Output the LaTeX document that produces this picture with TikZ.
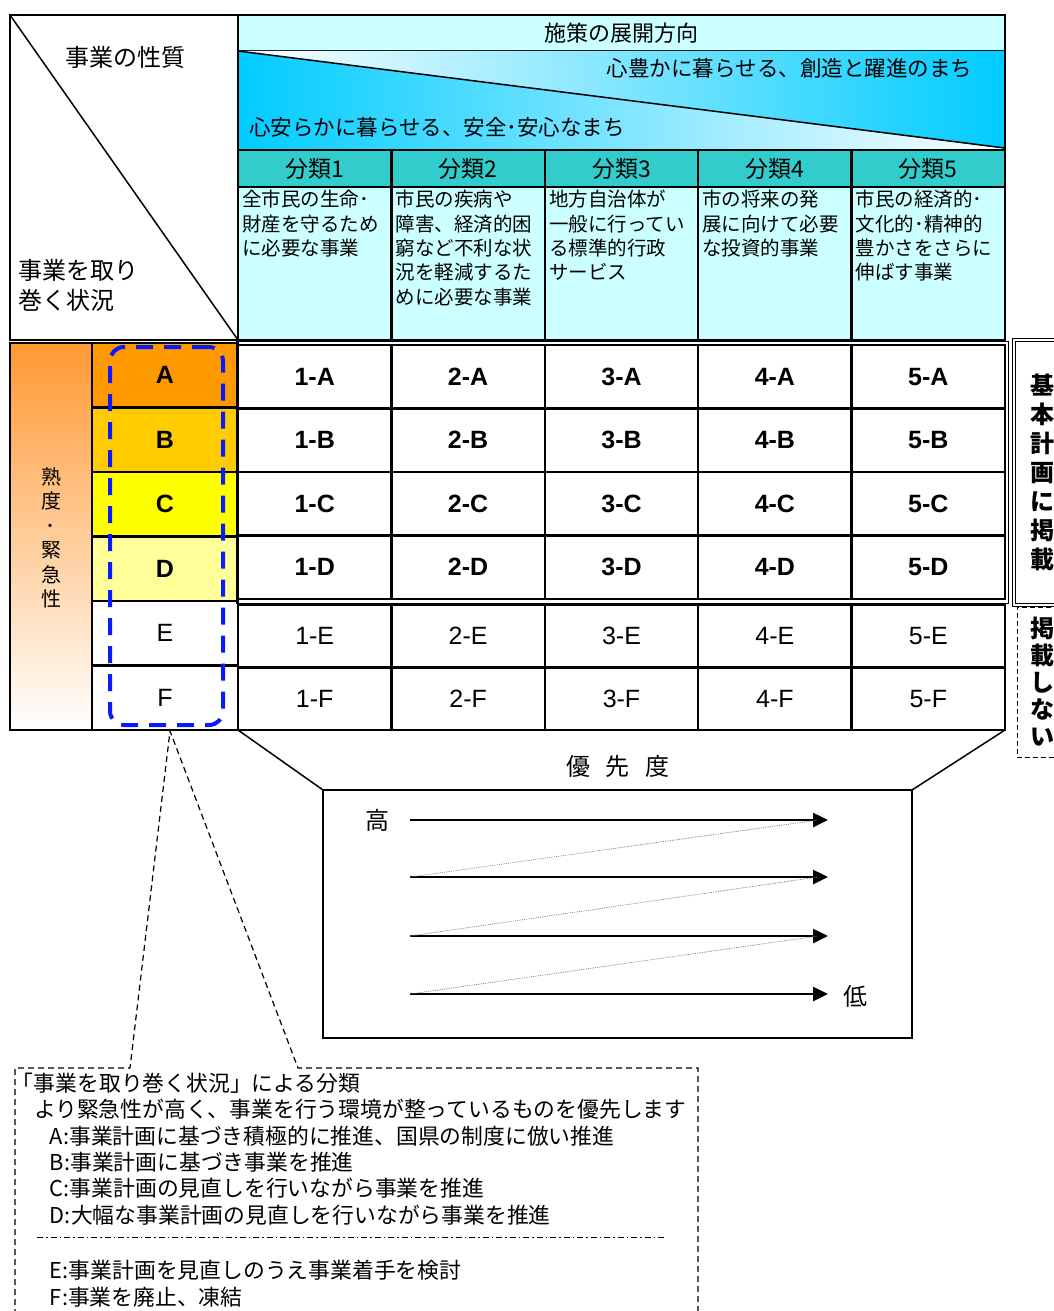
\documentclass[tikz,border=0pt]{standalone}
\usepackage{fontspec}
\setmainfont{Liberation Sans}
\newfontfamily\jp{Noto Sans CJK JP}
\usetikzlibrary{arrows.meta,positioning}
\definecolor{hdrcyan}{HTML}{CCFFFF}
\definecolor{kindteal}{HTML}{33CCCC}
\definecolor{skycyan}{HTML}{00CCFF}
\definecolor{ripe}{HTML}{FF9933}
\definecolor{lvA}{HTML}{FF9900}
\definecolor{lvB}{HTML}{FFCC00}
\definecolor{lvC}{HTML}{FFFF00}
\definecolor{lvD}{HTML}{FFFF99}
\definecolor{selblue}{HTML}{0A1AFF}

\begin{document}
\begin{tikzpicture}[x=1pt, y=-1pt, >={Triangle[length=15pt,width=14pt]},
    every node/.style={inner sep=0pt, outer sep=0pt},
    kind/.style={draw, line width=2.5pt, fill=kindteal, minimum width=153.4pt, minimum height=37pt, font=\jp\fontsize{23}{24}\selectfont},
    desc/.style={draw, line width=2.5pt, fill=hdrcyan, minimum width=153.4pt, minimum height=153pt},
    lvl/.style={draw, line width=2.5pt, minimum width=146pt, minimum height=64.5pt, font=\bfseries\fontsize{25}{28}\selectfont},
    cellhi/.style={draw, line width=2.5pt, minimum width=153.4pt, minimum height=63.5pt, font=\bfseries\fontsize{25}{28}\selectfont},
    celllo/.style={draw, line width=2.5pt, minimum width=153.4pt, minimum height=62.5pt, font=\fontsize{25}{28}\selectfont},
    note/.style={anchor=west, align=left, font=\jp\fontsize{21.8}{26.4}\selectfont}]
    \useasboundingbox (0,0) rectangle (1053,1311);

    % corner cell
    \draw[line width=1.5pt] (10,15) rectangle (238,340);
    \draw[line width=1.5pt] (10,15) -- (238,340);
    \node[font=\jp\fontsize{24}{26}\selectfont] (nature) at (125,57) {事業の性質};
    \node[anchor=west, align=left, font=\jp\fontsize{24}{30}\selectfont] (situation) at (18,285) {事業を取り\\巻く状況};

    % direction band
    \node[draw, line width=2.5pt, fill=hdrcyan, minimum width=767pt, minimum height=36pt, font=\jp\fontsize{22}{24}\selectfont] (dir) at (621.5,33) {施策の展開方向};
    \shade[left color=white, right color=skycyan] (238,51) -- (1005,51) -- (1005,149) -- cycle;
    \shade[left color=skycyan, right color=white] (238,51) -- (238,149) -- (1005,149) -- cycle;
    \draw[line width=1.5pt] (238,51) -- (1005,148);
    \node[anchor=east, font=\jp\fontsize{21.5}{24}\selectfont] (rich) at (972,68) {心豊かに暮らせる、創造と躍進のまち};
    \node[anchor=west, font=\jp\fontsize{21.5}{24}\selectfont] (safe) at (249,127) {心安らかに暮らせる、安全･安心なまち};

    % kinds
    \node[kind] (k1) at (314.7,168.5) {分類1};
    \node[kind] (k2) at (468.1,168.5) {分類2};
    \node[kind] (k3) at (621.5,168.5) {分類3};
    \node[kind] (k4) at (774.9,168.5) {分類4};
    \node[kind] (k5) at (928.3,168.5) {分類5};

    \node[desc] (d1) at (314.7,263.5) {\parbox[c][146pt][t]{145pt}{\jp\fontsize{19.5}{24.3}\selectfont 全市民の生命･\\財産を守るため\\に必要な事業}};
    \node[desc] (d2) at (468.1,263.5) {\parbox[c][146pt][t]{145pt}{\jp\fontsize{19.5}{24.3}\selectfont 市民の疾病や\\障害、経済的困\\窮など不利な状\\況を軽減するた\\めに必要な事業}};
    \node[desc] (d3) at (621.5,263.5) {\parbox[c][146pt][t]{145pt}{\jp\fontsize{19.5}{24.3}\selectfont 地方自治体が\\一般に行ってい\\る標準的行政\\サービス}};
    \node[desc] (d4) at (774.9,263.5) {\parbox[c][146pt][t]{145pt}{\jp\fontsize{19.5}{24.3}\selectfont 市の将来の発\\展に向けて必要\\な投資的事業}};
    \node[desc] (d5) at (928.3,263.5) {\parbox[c][146pt][t]{145pt}{\jp\fontsize{19.5}{24.3}\selectfont 市民の経済的･\\文化的･精神的\\豊かさをさらに\\伸ばす事業}};
    \draw[line width=2.5pt] (238,15) rectangle (1005,340);

    % ripeness / urgency
    \shade[top color=ripe, bottom color=white] (10,343) rectangle (92,730);
    \draw[line width=2pt] (10,343) rectangle (92,730);
    \node[align=center, font=\jp\fontsize{20}{24.5}\selectfont] (ripetxt) at (51,538) {熟\\度\\･\\緊\\急\\性};

    \node[lvl, fill=lvA] (lA) at (165,375.25) {A};
    \node[lvl, fill=lvB] (lB) at (165,439.75) {B};
    \node[lvl, fill=lvC] (lC) at (165,504.25) {C};
    \node[lvl, fill=lvD] (lD) at (165,568.75) {D};
    \node[lvl, font=\fontsize{25}{28}\selectfont] (lE) at (165,633.25) {E};
    \node[lvl, font=\fontsize{25}{28}\selectfont] (lF) at (165,697.75) {F};

    % grid
    \node[cellhi] (c1A) at (314.7,376.75) {1-A};
    \node[cellhi] (c2A) at (468.1,376.75) {2-A};
    \node[cellhi] (c3A) at (621.5,376.75) {3-A};
    \node[cellhi] (c4A) at (774.9,376.75) {4-A};
    \node[cellhi] (c5A) at (928.3,376.75) {5-A};
    \node[cellhi] (c1B) at (314.7,440.25) {1-B};
    \node[cellhi] (c2B) at (468.1,440.25) {2-B};
    \node[cellhi] (c3B) at (621.5,440.25) {3-B};
    \node[cellhi] (c4B) at (774.9,440.25) {4-B};
    \node[cellhi] (c5B) at (928.3,440.25) {5-B};
    \node[cellhi] (c1C) at (314.7,503.75) {1-C};
    \node[cellhi] (c2C) at (468.1,503.75) {2-C};
    \node[cellhi] (c3C) at (621.5,503.75) {3-C};
    \node[cellhi] (c4C) at (774.9,503.75) {4-C};
    \node[cellhi] (c5C) at (928.3,503.75) {5-C};
    \node[cellhi] (c1D) at (314.7,567.25) {1-D};
    \node[cellhi] (c2D) at (468.1,567.25) {2-D};
    \node[cellhi] (c3D) at (621.5,567.25) {3-D};
    \node[cellhi] (c4D) at (774.9,567.25) {4-D};
    \node[cellhi] (c5D) at (928.3,567.25) {5-D};
    \node[celllo] (c1E) at (314.7,636.25) {1-E};
    \node[celllo] (c2E) at (468.1,636.25) {2-E};
    \node[celllo] (c3E) at (621.5,636.25) {3-E};
    \node[celllo] (c4E) at (774.9,636.25) {4-E};
    \node[celllo] (c5E) at (928.3,636.25) {5-E};
    \node[celllo] (c1F) at (314.7,698.75) {1-F};
    \node[celllo] (c2F) at (468.1,698.75) {2-F};
    \node[celllo] (c3F) at (621.5,698.75) {3-F};
    \node[celllo] (c4F) at (774.9,698.75) {4-F};
    \node[celllo] (c5F) at (928.3,698.75) {5-F};
    \draw[line width=1pt] (236.5,341) rectangle (1008.5,603.5);
    \draw[line width=2pt] (10,730) -- (1005,730);

    % selection
    \node[draw=selblue, line width=4pt, dash pattern=on 17pt off 11pt, rounded corners=14pt, minimum width=113pt, minimum height=378pt] (sel) at (166.5,536) {};
    \coordinate (tip) at (170,731);

    % plan labels
    \node[draw, double, double distance=2pt, line width=1pt, minimum width=56pt, minimum height=265pt, align=center, font=\jp\bfseries\fontsize{24}{29}\selectfont] (plan) at (1042,472) {基\\本\\計\\画\\に\\掲\\載};
    \node[draw, line width=0.8pt, dash pattern=on 5pt off 3pt, minimum width=50pt, minimum height=150pt, align=center, font=\jp\bfseries\fontsize{24}{27}\selectfont] (noplan) at (1042,682) {掲\\載\\し\\な\\い};

    % priority
    \node[font=\jp\fontsize{24}{26}\selectfont] (prtitle) at (618,766) {優\hspace{0.65em}先\hspace{0.65em}度};
    \node[draw, line width=1.5pt, minimum width=589pt, minimum height=248pt] (prio) at (617.5,914) {};
    \draw[line width=1.5pt] (c1F.south west) -- (prio.north west);
    \draw[line width=1.5pt] (c5F.south east) -- (prio.north east);
    \coordinate (r1s) at (410,820); \coordinate (r1e) at (828,820);
    \coordinate (r2s) at (410,877); \coordinate (r2e) at (828,877);
    \coordinate (r3s) at (410,936); \coordinate (r3e) at (828,936);
    \coordinate (r4s) at (410,994); \coordinate (r4e) at (828,994);
    \draw[->, line width=2.5pt] (r1s) -- (r1e);
    \draw[->, line width=2.5pt] (r2s) -- (r2e);
    \draw[->, line width=2.5pt] (r3s) -- (r3e);
    \draw[->, line width=2.5pt] (r4s) -- (r4e);
    \draw[gray, densely dotted, line width=0.8pt] (r2s) -- ([xshift=-10pt]r1e);
    \draw[gray, densely dotted, line width=0.8pt] (r3s) -- ([xshift=-10pt]r2e);
    \draw[gray, densely dotted, line width=0.8pt] (r4s) -- ([xshift=-10pt]r3e);
    \node[font=\jp\fontsize{24}{26}\selectfont] (hi) at (377,820) {高};
    \node[font=\jp\fontsize{24}{26}\selectfont] (lo) at (855,996) {低};

    % callout
    \draw[line width=1.2pt, dash pattern=on 6pt off 4pt] (15,1315) -- (15,1068) -- (130,1068) -- (tip) -- (298,1068) -- (698,1068) -- (698,1315);
    \node[note] (sitnote) at (12,1149) {「事業を取り巻く状況」による分類\\\hspace*{22pt}より緊急性が高く、事業を行う環境が整っているものを優先します\\\hspace*{38pt}A:事業計画に基づき積極的に推進、国県の制度に倣い推進\\\hspace*{38pt}B:事業計画に基づき事業を推進\\\hspace*{38pt}C:事業計画の見直しを行いながら事業を推進\\\hspace*{38pt}D:大幅な事業計画の見直しを行いながら事業を推進};
    \draw[line width=1pt, dash pattern=on 6pt off 3pt on 1.5pt off 3pt] (37,1237) -- (665,1237);
    \node[note, font=\jp\fontsize{21.8}{27}\selectfont] (stopnote) at (12,1283.5) {\hspace*{38pt}E:事業計画を見直しのうえ事業着手を検討\\\hspace*{38pt}F:事業を廃止、凍結};
\end{tikzpicture}
\end{document}
